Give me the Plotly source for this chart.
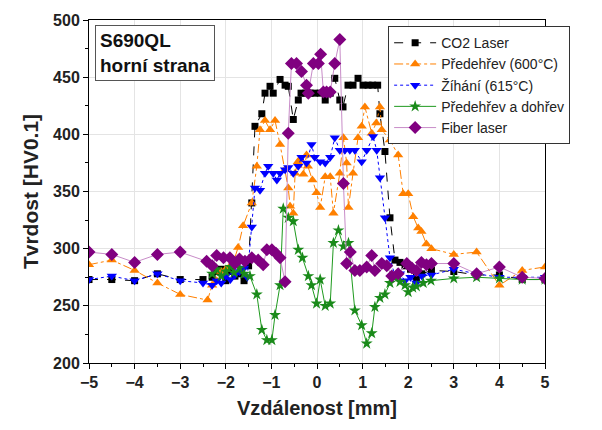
import plotly.graph_objects as go

# ---- data ----
x_co2 = [-5, -4.5, -4, -3.5, -3, -2.5, -2.3, -2.2, -2.1, -2.0, -1.9, -1.8, -1.7, -1.6, -1.5,
         -1.43, -1.36, -1.21, -1.14, -1.03, -0.96, -0.81, -0.70, -0.63, -0.52,
         -0.41, -0.35, -0.25, -0.15, -0.05, 0.07, 0.18, 0.29, 0.39, 0.50,
         0.57, 0.68, 0.79, 0.90, 1.01, 1.12, 1.22, 1.33, 1.38, 1.49,
         1.60, 1.71, 1.82, 1.93, 2.05, 2.18, 2.3, 2.51, 3, 3.5, 4, 4.5, 5]
y_co2 = [273, 273, 272, 278, 273, 273, 275, 280, 282, 272, 280, 276, 278, 272, 285,
         340, 407, 418, 436, 442, 436, 448, 443, 442, 413,
         430, 436, 436, 436, 436, 436, 430, 436, 449, 430,
         424, 443, 443, 449, 443, 443, 443, 443, 418, 385,
         327, 290, 288, 285, 282, 273, 278, 281, 280, 277, 277, 273, 273]

x_pre = [-5, -4.5, -4, -3.5, -3, -2.4, -2.3, -2.2, -2.1, -2.0, -1.9, -1.82, -1.73, -1.62,
         -1.43, -1.32, -1.25, -1.14, -1.03, -0.92, -0.81, -0.70, -0.63, -0.59, -0.52,
         -0.48, -0.42, -0.37, -0.30, -0.23, -0.20, -0.10, -0.01, 0.07, 0.18, 0.29, 0.36,
         0.50, 0.58, 0.65, 0.69, 0.79, 0.90, 0.98, 1.05, 1.20, 1.30, 1.38, 1.42, 1.60,
         1.78, 1.89, 2.0, 2.11, 2.22, 2.29, 2.40, 2.51, 3.0, 3.5, 4.0, 4.5, 5.0]
y_pre = [286, 290, 281, 270, 260, 255, 268, 272, 280, 282, 285, 290, 301, 320,
         340, 372, 404, 412, 404, 412, 391, 369, 353, 337, 331,
         366, 376, 378, 365, 382, 372, 360, 349, 336, 363, 363, 331,
         366, 397, 375, 336, 366, 397, 407, 424, 401, 410, 424, 404, 395,
         382, 348, 348, 328, 318, 315, 304, 300, 295, 297, 268, 281, 284]

x_zih = [-5, -4.5, -4, -3.5, -3, -2.5, -2.3, -2.2, -2.1, -2.0, -1.9, -1.8, -1.7, -1.6,
         -1.53, -1.43, -1.36, -1.25, -1.14, -1.07, -0.96, -0.88, -0.81, -0.70,
         -0.63, -0.52, -0.41, -0.34, -0.23, -0.12, -0.05, 0.07, 0.18, 0.29,
         0.39, 0.50, 0.61, 0.72, 0.83, 0.98, 1.09, 1.23, 1.31, 1.38,
         1.49, 1.60, 1.71, 1.82, 1.93, 2.05, 2.18, 2.3, 2.51, 3, 3.5, 4, 4.5, 5]
y_zih = [273, 276, 272, 278, 272, 270, 268, 272, 270, 276, 273, 277, 280, 283,
         275, 319, 353, 351, 366, 372, 366, 360, 366, 369,
         371, 366, 372, 380, 375, 391, 380, 376, 375, 380,
         397, 386, 386, 386, 386, 376, 386, 398, 386, 362,
         327, 292, 276, 278, 272, 275, 270, 276, 277, 282, 278, 275, 275, 275]

x_pd = [-2.3, -2.2, -2.1, -2.0, -1.9, -1.82, -1.7, -1.6,
        -1.47, -1.32, -1.21, -1.10, -0.99, -0.92, -0.81, -0.74, -0.63, -0.52,
        -0.41, -0.32, -0.19, -0.12, -0.01, 0.07, 0.18, 0.29, 0.36, 0.47,
        0.58, 0.69, 0.83, 0.98, 1.09, 1.20, 1.27, 1.38, 1.49, 1.60,
        1.71, 1.82, 1.93, 2.0, 2.1, 2.18, 2.33, 2.5, 3, 3.5, 4, 4.5, 5]
y_pd = [278, 282, 276, 280, 284, 279, 283, 278,
        276, 260, 229, 220, 220, 242, 268, 335, 327, 324,
        299, 292, 276, 268, 252, 273, 250, 252, 305, 316,
        302, 305, 246, 233, 217, 226, 249, 257, 260, 270,
        275, 271, 268, 262, 266, 267, 270, 272, 274, 275, 274, 273, 273]

x_fib = [-5, -4.5, -4, -3.5, -3,
         -2.42, -2.3, -2.2, -2.05, -1.91, -1.8, -1.7, -1.58, -1.43, -1.29,
         -1.18, -1.10, -0.99, -0.90, -0.81, -0.70, -0.63, -0.56, -0.45, -0.34,
         -0.23, -0.19, -0.08, 0.03, 0.08, 0.14, 0.21, 0.29, 0.39, 0.50,
         0.58, 0.65, 0.73, 0.83, 0.94, 1.09, 1.20, 1.27, 1.42, 1.53,
         1.64, 1.78, 1.97, 2.08, 2.18, 2.29, 2.40, 2.51, 3, 3.5, 4, 4.5, 5]
y_fib = [297, 295, 288, 295, 297,
         289, 285, 294, 292, 292, 287, 291, 289, 292, 290,
         286, 299, 299, 296, 292, 271, 401, 462, 462, 455,
         443, 436, 462, 462, 470, 437, 437, 437, 462, 483,
         357, 287, 297, 281, 281, 284, 294, 281, 287, 285,
         276, 278, 287, 283, 281, 288, 286, 287, 287, 278, 284, 275, 274]

series_names = ["CO2 Laser", "Předehřev (600°C)", "Žíhání (615°C)", "Předehřev a dohřev", "Fiber laser"]
x_ticks = [-5, -4, -3, -2, -1, 0, 1, 2, 3, 4, 5]
y_ticks = [200, 250, 300, 350, 400, 450, 500]

FONT = "Liberation Sans, Arial, sans-serif"

fig = go.Figure()
fig.add_trace(go.Scatter(x=x_co2, y=y_co2, name=series_names[0], mode="lines+markers",
                         line=dict(color="black", width=1, dash="dash"),
                         marker=dict(symbol="square", size=7, color="black")))
fig.add_trace(go.Scatter(x=x_pre, y=y_pre, name=series_names[1], mode="lines+markers",
                         line=dict(color="#ff8000", width=1, dash="dashdot"),
                         marker=dict(symbol="triangle-up", size=9, color="#ff8000")))
fig.add_trace(go.Scatter(x=x_zih, y=y_zih, name=series_names[2], mode="lines+markers",
                         line=dict(color="#0000ff", width=1, dash="dot"),
                         marker=dict(symbol="triangle-down", size=9, color="#0000ff")))
fig.add_trace(go.Scatter(x=x_pd, y=y_pd, name=series_names[3], mode="lines+markers",
                         line=dict(color="#1f9a1f", width=1),
                         marker=dict(symbol="star", size=9, color="#1a8a1a")))
fig.add_trace(go.Scatter(x=x_fib, y=y_fib, name=series_names[4], mode="lines+markers",
                         line=dict(color="#c88cc8", width=1),
                         marker=dict(symbol="diamond", size=10, color="#800080")))

fig.add_annotation(x=0.013, y=0.985, xref="paper", yref="paper", xanchor="left", yanchor="top",
                   text="<b>S690QL<br>horní strana</b>", align="left", showarrow=False,
                   font=dict(family=FONT, size=19, color="#111111"),
                   bgcolor="white", bordercolor="#555555", borderwidth=1, borderpad=4)

axis_common = dict(showline=True, linecolor="black", linewidth=1, mirror=True,
                   ticks="outside", ticklen=5, tickcolor="black",
                   showgrid=True, gridcolor="#e4e4e4", gridwidth=1, zeroline=False,
                   tickfont=dict(family=FONT, size=16, color="#222222", weight="bold"))

fig.update_xaxes(range=[-5, 5], tickvals=x_ticks, **axis_common,
                 minor=dict(ticks="outside", ticklen=3, dtick=0.5, tickcolor="black", showgrid=False),
                 title=dict(text="Vzdálenost [mm]", font=dict(family=FONT, size=20, color="#222222", weight="bold"),
                            standoff=10))
fig.update_yaxes(range=[200, 500], tickvals=y_ticks, **axis_common,
                 minor=dict(ticks="outside", ticklen=3, dtick=25, tickcolor="black", showgrid=False),
                 title=dict(text="Tvrdost [HV0.1]", font=dict(family=FONT, size=21, color="#222222", weight="bold"),
                            standoff=8))

fig.update_layout(width=602, height=430,
                  margin=dict(l=89, r=57, t=20, b=67),
                  paper_bgcolor="white", plot_bgcolor="white",
                  showlegend=True,
                  legend=dict(x=0.656, y=0.982, xanchor="left", yanchor="top",
                              bgcolor="white", bordercolor="#333333", borderwidth=1,
                              font=dict(family=FONT, size=14, color="#222222"),
                              tracegroupgap=0, itemwidth=42))

fig.write_html("out.html")
